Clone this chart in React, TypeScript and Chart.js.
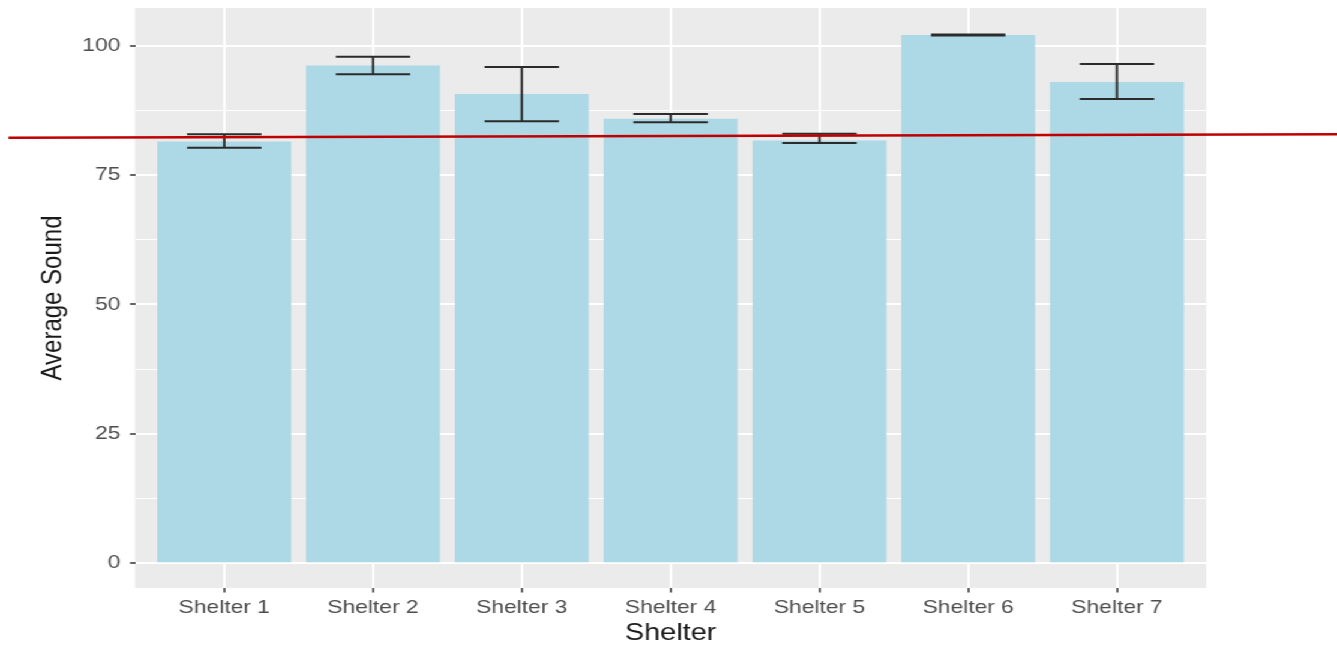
import React, { useEffect, useRef } from 'react';
import { Chart, registerables } from 'chart.js';

Chart.register(...registerables);

// ---- data ----
const categories = ['Shelter 1', 'Shelter 2', 'Shelter 3', 'Shelter 4', 'Shelter 5', 'Shelter 6', 'Shelter 7'];
const avgSound = [81.5, 96.2, 90.7, 85.9, 81.7, 102.1, 93.0];
const errLow = [80.3, 94.5, 85.4, 85.2, 81.2, 102.0, 89.7];
const errHigh = [82.9, 97.9, 95.9, 86.8, 83.0, 102.2, 96.5];
const yMajorTicks = [0, 25, 50, 75, 100];
const yMinorTicks = [12.5, 37.5, 62.5, 87.5];
// hand-drawn red reference line (x in category units, y in data units)
const refLineX = [-0.45, 8.48];
const refLineY = [82.2, 82.9];

const STRETCH = 1337 / 1114;
const FONT = '"Liberation Sans", Arial, Helvetica, sans-serif';

const panelBg = {
  id: 'panelBg',
  beforeDraw(chart: any) {
    const { ctx, chartArea } = chart;
    ctx.save();
    ctx.fillStyle = '#EBEBEB';
    ctx.fillRect(chartArea.left, chartArea.top, chartArea.right - chartArea.left, chartArea.bottom - chartArea.top);
    ctx.restore();
  },
};

const errorBars = {
  id: 'errorBars',
  afterDatasetsDraw(chart: any) {
    const { ctx, scales } = chart;
    const xs = scales.x;
    const ys = scales.y;
    const half = Math.abs(xs.getPixelForValue(1.25) - xs.getPixelForValue(1));
    ctx.save();
    ctx.strokeStyle = '#2b2b2b';
    ctx.lineWidth = 2;
    for (let i = 0; i < categories.length; i++) {
      const x = xs.getPixelForValue(i + 1);
      const yl = ys.getPixelForValue(errLow[i]);
      const yh = ys.getPixelForValue(errHigh[i]);
      ctx.beginPath();
      ctx.moveTo(x - half, yh);
      ctx.lineTo(x + half, yh);
      ctx.moveTo(x - half, yl);
      ctx.lineTo(x + half, yl);
      ctx.moveTo(x, yh);
      ctx.lineTo(x, yl);
      ctx.stroke();
    }
    ctx.restore();
  },
};

const refLine = {
  id: 'refLine',
  afterDraw(chart: any) {
    const { ctx, scales } = chart;
    ctx.save();
    ctx.strokeStyle = '#C00000';
    ctx.lineWidth = 2.5;
    ctx.beginPath();
    ctx.moveTo(scales.x.getPixelForValue(refLineX[0]), scales.y.getPixelForValue(refLineY[0]));
    ctx.lineTo(scales.x.getPixelForValue(refLineX[1]), scales.y.getPixelForValue(refLineY[1]));
    ctx.stroke();
    ctx.restore();
  },
};

export default function App() {
  const canvasRef = useRef<HTMLCanvasElement | null>(null);

  useEffect(() => {
    if (!canvasRef.current) return;
    const chart = new Chart(canvasRef.current, {
      type: 'bar',
      data: {
        datasets: [
          {
            label: 'Average Sound',
            data: avgSound.map((v, i) => ({ x: i + 1, y: v })),
            backgroundColor: '#ADD8E6',
            borderWidth: 0,
            barPercentage: 0.9,
            categoryPercentage: 1,
          },
        ],
      },
      options: {
        animation: false,
        responsive: true,
        maintainAspectRatio: false,
        layout: { padding: { left: 0, top: 8, right: 109, bottom: 0 } },
        plugins: { legend: { display: false }, tooltip: { enabled: false } },
        scales: {
          x: {
            type: 'linear',
            min: 0.4,
            max: 7.6,
            offset: false,
            afterBuildTicks: (scale: any) => {
              scale.ticks = categories.map((_, i) => ({ value: i + 1 }));
            },
            afterFit: (scale: any) => {
              scale.height = 63;
              scale.paddingLeft = 0;
              scale.paddingRight = 0;
            },
            border: { display: false },
            grid: {
              offset: false,
              color: '#FFFFFF',
              lineWidth: 2,
              tickLength: 4.5,
              tickColor: '#333333',
              tickWidth: 1.5,
            },
            ticks: {
              autoSkip: false,
              maxRotation: 0,
              padding: 4,
              color: '#4D4D4D',
              font: { family: FONT, size: 19 },
              callback: (v: any) => categories[Math.round(Number(v)) - 1] ?? '',
            },
            title: {
              display: true,
              text: 'Shelter',
              color: '#1a1a1a',
              font: { family: FONT, size: 24 },
              padding: { top: 0, bottom: 3 },
            },
          },
          y: {
            type: 'linear',
            min: -4.8,
            max: 107.3,
            afterBuildTicks: (scale: any) => {
              scale.ticks = [...yMajorTicks, ...yMinorTicks].sort((a, b) => a - b).map((v) => ({ value: v }));
            },
            afterFit: (scale: any) => {
              scale.width = 112.5;
              scale.paddingTop = 0;
              scale.paddingBottom = 0;
            },
            border: { display: false },
            grid: {
              color: '#FFFFFF',
              lineWidth: (c: any) => (yMajorTicks.includes(c.tick?.value) ? 2 : 1),
              tickLength: 4.2,
              tickColor: (c: any) => (yMajorTicks.includes(c.tick?.value) ? '#333333' : 'rgba(0,0,0,0)'),
              tickWidth: 1.5,
            },
            ticks: {
              padding: 8,
              color: '#4D4D4D',
              font: { family: FONT, size: 19 },
              callback: (v: any) => (yMajorTicks.includes(Number(v)) ? String(v) : ''),
            },
            title: {
              display: true,
              text: 'Average Sound',
              color: '#1a1a1a',
              font: { family: FONT, size: 24 },
              padding: { top: 30, bottom: 0 },
            },
          },
        },
      },
      plugins: [panelBg, errorBars, refLine],
    });
    return () => chart.destroy();
  }, []);

  return (
    <div
      style={{
        position: 'fixed',
        left: 0,
        top: 0,
        width: 1114,
        height: 651,
        background: '#FFFFFF',
        transform: `scaleX(${STRETCH})`,
        transformOrigin: '0 0',
      }}
    >
      <canvas ref={canvasRef} />
    </div>
  );
}
